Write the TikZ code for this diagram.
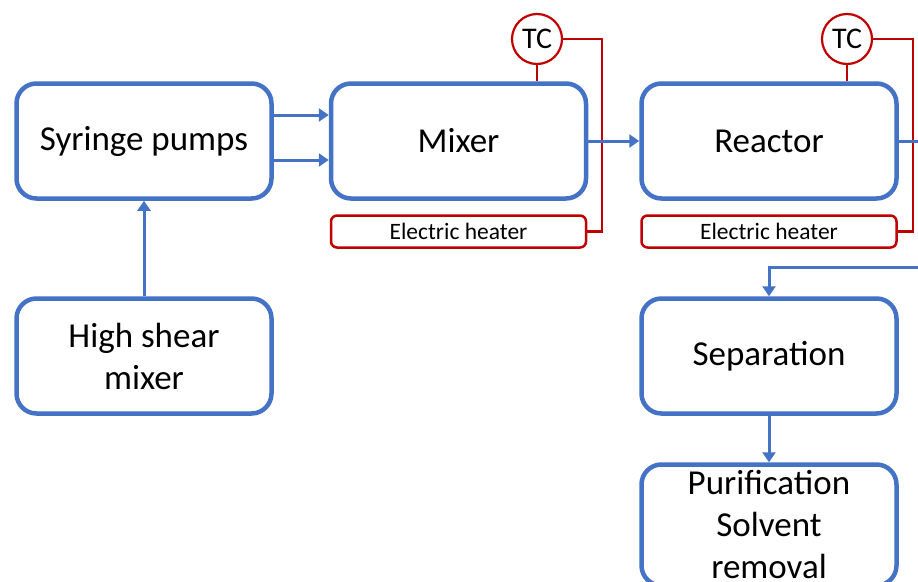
\documentclass[tikz,border=0pt]{standalone}
\usepackage{fontspec}
\setmainfont{Carlito}
\usetikzlibrary{arrows.meta}
\definecolor{myblue}{HTML}{4472C4}
\definecolor{myred}{HTML}{C00000}
\tikzset{
  box/.style={draw=myblue, line width=4.5pt, rounded corners=20pt, minimum width=255pt, minimum height=115pt, inner sep=0pt, font=\fontsize{35}{42}\selectfont, align=center},
  heater/.style={draw=myred, line width=2.5pt, rounded corners=6pt, minimum width=255pt, minimum height=32pt, inner sep=0pt, font=\fontsize{23.5}{27}\selectfont},
  tcnode/.style={circle, draw=myred, line width=2.2pt, minimum size=50pt, inner sep=0pt, font=\fontsize{30}{34}\selectfont},
  arr/.style={draw=myblue, line width=3pt, -{Triangle[length=10pt,width=13pt]}},
  sig/.style={draw=myred, line width=2.2pt}
}
\begin{document}
\begin{tikzpicture}[x=1pt,y=-1pt]
\useasboundingbox (0,0) rectangle (918,581);
\clip (0,0) rectangle (918,581);
\node[box] (syr) at (144,141) {Syringe pumps};
\node[box] (mixer) at (458.5,141) {Mixer};
\node[box] (reactor) at (769,141) {Reactor};
\node[box] (hsm) at (144,356) {High shear\\mixer};
\node[box] (sep) at (769,356) {Separation};
\node[box, minimum height=121pt] (pur) at (769,525) {Purification\\Solvent\\removal};
\node[heater] (heat1) at (458.5,231.5) {Electric heater};
\node[heater] (heat2) at (769,231.5) {Electric heater};
\node[tcnode] (tc1) at (537,39) {TC};
\node[tcnode] (tc2) at (847,39) {TC};
\coordinate (a1) at (0,115);
\coordinate (a2) at (0,160);
\coordinate (r1) at (602,39);
\coordinate (r2) at (913,39);
\coordinate (ro) at (930,141);
\coordinate (rb) at (930,267);
% red signal lines
\draw[sig] (tc1.south) -- (tc1.south |- mixer.north);
\draw[sig] (tc2.south) -- (tc2.south |- reactor.north);
\draw[sig] (tc1.east) -- (r1) |- (heat1.east);
\draw[sig] (tc2.east) -- (r2) |- (heat2.east);
% blue flow lines
\draw[arr] (syr.east |- a1) -- (mixer.west |- a1);
\draw[arr] (syr.east |- a2) -- (mixer.west |- a2);
\draw[arr] (hsm.north) -- (syr.south);
\draw[arr] (mixer.east) -- (reactor.west);
\draw[arr] (reactor.east) -- (ro) -- (rb) -| (sep.north);
\draw[arr] (sep.south) -- (pur.north);
\end{tikzpicture}
\end{document}
